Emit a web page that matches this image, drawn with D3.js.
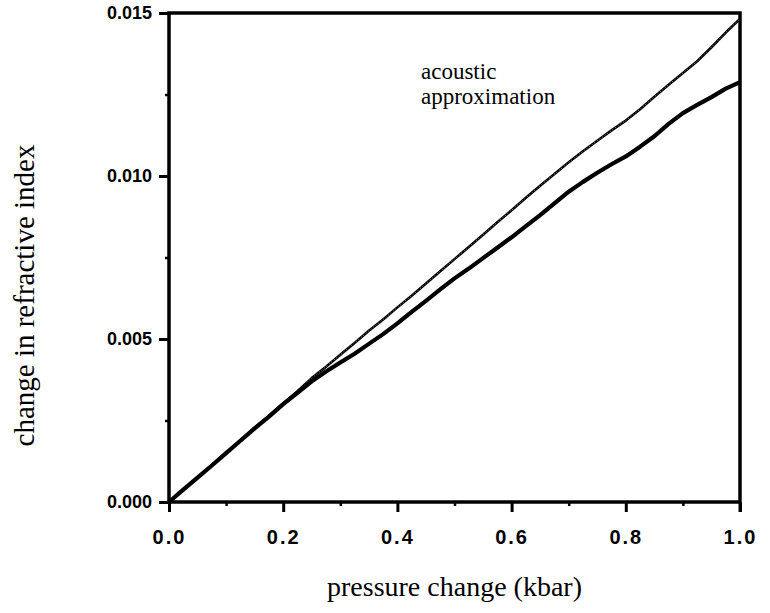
<!DOCTYPE html>
<html><head><meta charset="utf-8">
<script src="https://cdn.jsdelivr.net/npm/d3@7"></script>
<style>html,body{margin:0;padding:0;background:#fff;}</style>
</head><body>
<svg id="c" width="770" height="613"></svg>
<script>
const pressure = [0,0.025,0.05,0.075,0.10,0.125,0.15,0.175,0.20,0.225,0.25,0.275,0.30,0.325,0.35,0.375,0.40,0.425,0.45,0.475,0.50,0.525,0.55,0.575,0.60,0.625,0.65,0.675,0.70,0.725,0.75,0.775,0.80,0.825,0.85,0.875,0.90,0.925,0.95,0.975,1.00];
const acoustic = [0,0.00038,0.00076,0.00113,0.00150,0.00189,0.00228,0.00264,0.00302,0.00340,0.00380,0.00415,0.00452,0.00488,0.00525,0.00560,0.00597,0.00633,0.00670,0.00708,0.00745,0.00782,0.00820,0.00858,0.00895,0.00933,0.00970,0.01006,0.01042,0.01076,0.01108,0.01140,0.01170,0.01205,0.01243,0.01280,0.01316,0.01352,0.01395,0.01440,0.01482];
const measured = [0,0.00038,0.00075,0.00112,0.00150,0.00188,0.00226,0.00262,0.00300,0.00335,0.00370,0.00400,0.00428,0.00455,0.00485,0.00515,0.00548,0.00583,0.00617,0.00652,0.00686,0.00716,0.00748,0.00780,0.00812,0.00846,0.00880,0.00916,0.00952,0.00982,0.01010,0.01036,0.01060,0.01090,0.01122,0.01160,0.01193,0.01218,0.01242,0.01268,0.01288];
const xTicks = [0,0.2,0.4,0.6,0.8,1.0];
const xMinor = [0.1,0.3,0.5,0.7,0.9];
const yTicks = [0,0.005,0.010,0.015];
const yMinor = [0.0025,0.0075,0.0125];
const xTitle = "pressure change (kbar)";
const yTitle = "change in refractive index";
const annot = ["acoustic","approximation"];

const svg = d3.select("#c");
const L=169, R=740, T=13, B=502;
const x = d3.scaleLinear().domain([0,1]).range([L,R]);
const y = d3.scaleLinear().domain([0,0.015]).range([B,T]);

// axes
const ax = svg.append("g").attr("transform",`translate(0,${B})`)
  .call(d3.axisBottom(x).tickValues(xTicks).tickFormat(d3.format(".1f")).tickSize(10).tickSizeOuter(0));
ax.select(".domain").remove();
ax.selectAll(".tick line").attr("stroke","#000").attr("stroke-width",3);
ax.selectAll(".tick text").attr("font-family","'Liberation Sans',Arial,sans-serif").attr("font-size",20)
  .attr("font-weight","bold").attr("letter-spacing","2px").attr("fill","#000").attr("dy","1.45em");
const axm = svg.append("g").attr("transform",`translate(0,${B})`)
  .call(d3.axisBottom(x).tickValues(xMinor).tickFormat("").tickSize(4).tickSizeOuter(0));
axm.select(".domain").remove();
axm.selectAll(".tick line").attr("stroke","#000").attr("stroke-width",2.5);

const ay = svg.append("g").attr("transform",`translate(${L},0)`)
  .call(d3.axisLeft(y).tickValues(yTicks).tickFormat(d3.format(".3f")).tickSize(10).tickSizeOuter(0));
ay.select(".domain").remove();
ay.selectAll(".tick line").attr("stroke","#000").attr("stroke-width",3);
ay.selectAll(".tick text").attr("font-family","'Liberation Sans',Arial,sans-serif").attr("font-size",18)
  .attr("font-weight","bold").attr("fill","#000").attr("x",-17);
const aym = svg.append("g").attr("transform",`translate(${L},0)`)
  .call(d3.axisLeft(y).tickValues(yMinor).tickFormat("").tickSize(4).tickSizeOuter(0));
aym.select(".domain").remove();
aym.selectAll(".tick line").attr("stroke","#000").attr("stroke-width",2.5);

// frame
svg.append("rect").attr("x",L).attr("y",T).attr("width",R-L).attr("height",B-T)
  .attr("fill","none").attr("stroke","#000").attr("stroke-width",3.5);
svg.append("line").attr("x1",R).attr("x2",R).attr("y1",B).attr("y2",B+10).attr("stroke","#000").attr("stroke-width",3);

// lines
const line = d3.line().x((d,i)=>x(pressure[i])).y(d=>y(d));
svg.append("path").attr("d",line(acoustic)).attr("fill","none").attr("stroke","#000")
  .attr("stroke-width",2.6).attr("stroke-linejoin","round");
svg.append("path").attr("d",line(acoustic)).attr("fill","none").attr("stroke","#fff")
  .attr("stroke-width",0.7).attr("stroke-dasharray","0.8 2.4");
svg.append("path").attr("d",line(measured)).attr("fill","none").attr("stroke","#000")
  .attr("stroke-width",4.2).attr("stroke-linejoin","round");

// annotation
svg.append("text").attr("x",421).attr("y",79).attr("font-family","'Liberation Serif','Times New Roman',serif")
  .attr("font-size",23).attr("fill","#000").text(annot[0]);
svg.append("text").attr("x",421).attr("y",104).attr("font-family","'Liberation Serif','Times New Roman',serif")
  .attr("font-size",23).attr("fill","#000").text(annot[1]);

// titles
svg.append("text").attr("x",(L+R)/2).attr("y",596).attr("text-anchor","middle")
  .attr("font-family","'Liberation Serif','Times New Roman',serif").attr("font-size",28).attr("fill","#000").text(xTitle);
svg.append("text").attr("transform",`translate(34,${(T+B)/2+38}) rotate(-90)`).attr("text-anchor","middle")
  .attr("font-family","'Liberation Serif','Times New Roman',serif").attr("font-size",29).attr("fill","#000").text(yTitle);
</script>
</body></html>
